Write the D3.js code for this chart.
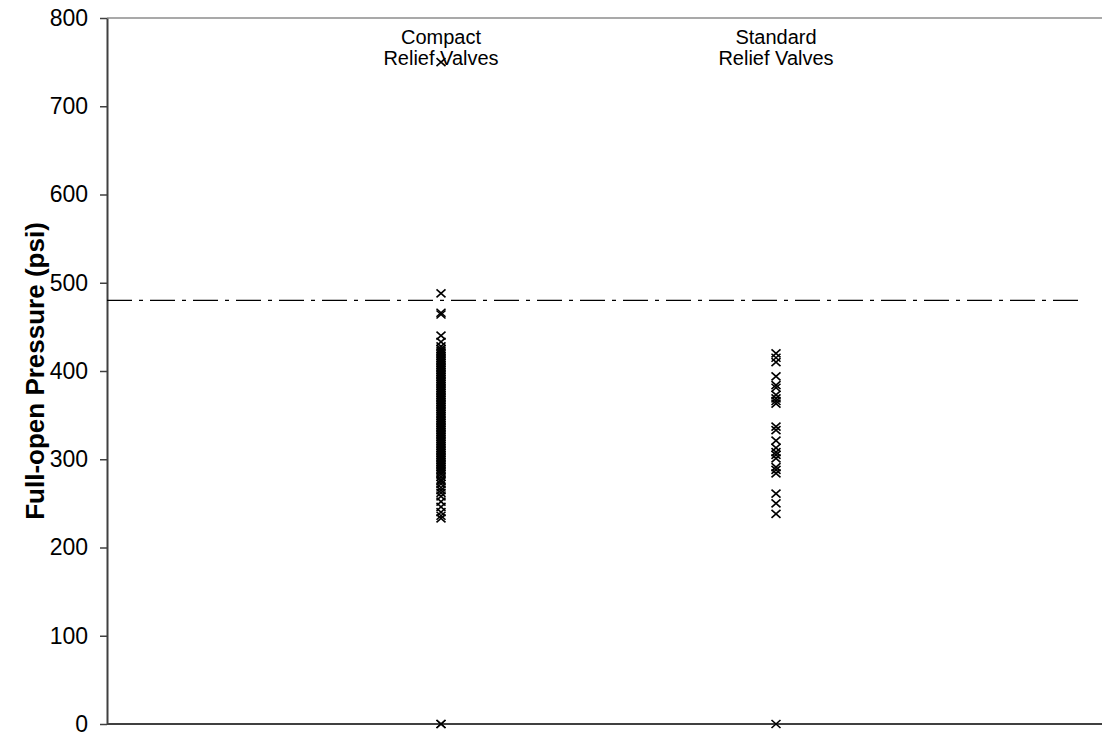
<!DOCTYPE html>
<html>
<head>
<meta charset="utf-8">
<script src="https://cdn.jsdelivr.net/npm/d3@7"></script>
<style>
  body { margin: 0; background: #fff; }
  svg { display: block; font-family: Arial, "Liberation Sans", sans-serif; }
</style>
</head>
<body>
<svg id="chart" width="1102" height="736"></svg>
<script>
// Valve groups and their full-open pressure readings (psi)
const groups = ["Compact", "Standard"];
const groupLabels = [["Compact", "Relief Valves"], ["Standard", "Relief Valves"]];

const compactPressures = [
  750, 488, 466, 464, 440, 433, 428, 425, 423, 421, 419, 417, 415, 413, 411,
  409, 407, 405, 403, 401, 399, 397, 395, 393, 391, 389, 387, 385, 383, 381,
  379, 377, 375, 373, 371, 369, 367, 365, 363, 361, 359, 357, 355, 353, 351,
  349, 347, 345, 343, 341, 339, 337, 335, 333, 331, 329, 327, 325, 323, 321,
  319, 317, 315, 313, 311, 309, 307, 305, 303, 301, 299, 297, 295, 293, 291,
  289, 287, 285, 283, 280, 277, 275, 272, 268, 265, 262, 258, 252, 246, 240,
  236, 233, 0, 0
];
const standardPressures = [
  420, 415, 410, 394, 384, 381, 373, 369, 366, 363, 337, 333, 321, 313, 308,
  305, 301, 291, 288, 284, 261, 250, 238, 0
];
const limitPressure = 480;

const yTicks = [0, 100, 200, 300, 400, 500, 600, 700, 800];
const yTitle = "Full-open Pressure (psi)";

const svg = d3.select("#chart");
const plotLeft = 107, plotRight = 1102, plotTop = 18, plotBottom = 724;

const x = d3.scalePoint().domain(groups).range([441, 776]);
const y = d3.scaleLinear().domain([0, 800]).range([plotBottom, plotTop]);

// top border
svg.append("line")
  .attr("x1", plotLeft).attr("x2", plotRight).attr("y1", plotTop).attr("y2", plotTop)
  .attr("stroke", "#8c8c8c").attr("stroke-width", 1.5);

// y axis
const yAxis = svg.append("g")
  .attr("transform", `translate(${plotLeft},0)`)
  .call(d3.axisLeft(y).tickValues(yTicks).tickSize(7).tickPadding(12).tickSizeOuter(0));
yAxis.select(".domain").attr("stroke", "#404040").attr("stroke-width", 2);
yAxis.selectAll(".tick line").attr("stroke", "#404040").attr("stroke-width", 1.5);
yAxis.selectAll(".tick text")
  .attr("font-size", 23).attr("fill", "#000")
  .attr("font-family", "Arial, 'Liberation Sans', sans-serif");

// bottom baseline
svg.append("line")
  .attr("x1", plotLeft).attr("x2", plotRight).attr("y1", y(0)).attr("y2", y(0))
  .attr("stroke", "#404040").attr("stroke-width", 2);

// y title
svg.append("text")
  .attr("transform", `translate(44,${(plotTop + plotBottom) / 2}) rotate(-90)`)
  .attr("text-anchor", "middle")
  .attr("font-size", 26).attr("font-weight", "bold")
  .text(yTitle);

// limit line (dash-dot)
svg.append("line")
  .attr("x1", plotLeft).attr("x2", 1080)
  .attr("y1", y(limitPressure)).attr("y2", y(limitPressure))
  .attr("stroke", "#000").attr("stroke-width", 1.2)
  .attr("stroke-dasharray", "25,7,4,7");

// group labels
groupLabels.forEach((lines, i) => {
  const t = svg.append("text")
    .attr("text-anchor", "middle")
    .attr("font-size", 20)
    .attr("x", x(groups[i])).attr("y", 44);
  lines.forEach((ln, j) => {
    t.append("tspan").attr("x", x(groups[i])).attr("dy", j === 0 ? 0 : 21).text(ln);
  });
});

// cross markers
const series = [
  { group: "Compact", values: compactPressures },
  { group: "Standard", values: standardPressures }
];
const hw = 4.5, hh = 4;
series.forEach(s => {
  svg.append("g").selectAll("path")
    .data(s.values)
    .join("path")
    .attr("d", d => {
      const cx = x(s.group), cy = y(d);
      return `M${cx - hw},${cy - hh}L${cx + hw},${cy + hh}M${cx - hw},${cy + hh}L${cx + hw},${cy - hh}`;
    })
    .attr("stroke", "#000").attr("stroke-width", 1.6).attr("fill", "none");
});
</script>
</body>
</html>
